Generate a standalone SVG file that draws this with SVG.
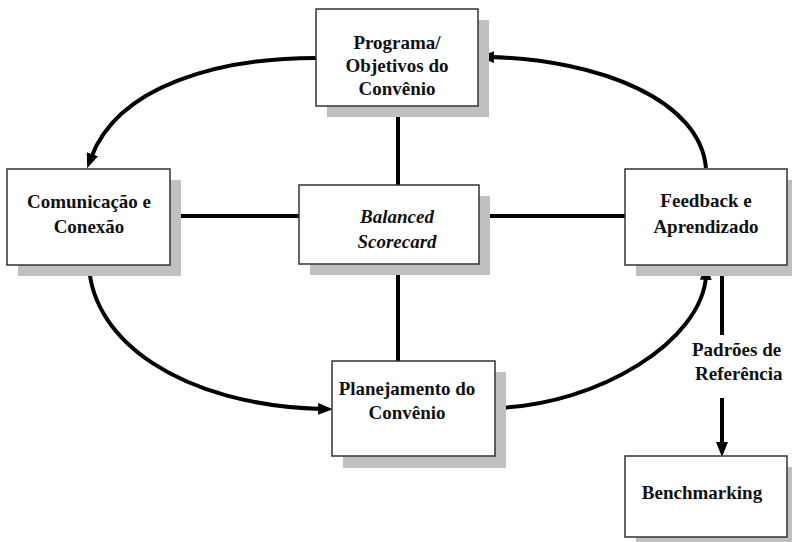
<svg xmlns="http://www.w3.org/2000/svg" width="792" height="542" viewBox="0 0 792 542">
<style>
.box{fill:#fff;stroke:#333;stroke-width:1.5}
.sh{fill:#c0c0c0}
.t{font-family:"Liberation Serif","Times New Roman",serif;font-weight:bold;font-size:19px;fill:#111;text-anchor:middle}
.i{font-style:italic}
.c{fill:none;stroke:#000;stroke-width:4}
</style>
<defs>
<marker id="ah" markerUnits="userSpaceOnUse" markerWidth="16" markerHeight="14" viewBox="0 0 16 14" refX="4" refY="7" orient="auto">
<path d="M0,1 L15,7 L0,13 z" fill="#000"/>
</marker>
</defs>
<g id="connectors">
<path class="c" d="M398,106 V185"/>
<path class="c" d="M398,264 V361"/>
<path class="c" d="M170,216 H299"/>
<path class="c" d="M479,216 H625"/>
<path class="c" d="M316,58 C220,58 118,85 91,158" marker-end="url(#ah)"/>
<path class="c" d="M706,168 C700,100 600,60 490,57" marker-end="url(#ah)"/>
<path class="c" d="M89,265 C92,340 180,405 322,409" marker-end="url(#ah)"/>
<path class="c" d="M495,408 C600,405 702,340 706,276" marker-end="url(#ah)"/>
<path class="c" d="M722,265 V335"/>
<path class="c" d="M722,398 V446" marker-end="url(#ah)"/>
</g>
<g id="programa">
<rect class="sh" x="327" y="20" width="162" height="97"/>
<rect class="box" x="316" y="9" width="162" height="97"/>
<text class="t" x="397" y="49">Programa/</text>
<text class="t" x="397" y="72">Objetivos do</text>
<text class="t" x="397" y="95">Convênio</text>
</g>
<g id="comunicacao">
<rect class="sh" x="18" y="180" width="163" height="96"/>
<rect class="box" x="7" y="169" width="163" height="96"/>
<text class="t" x="89" y="208">Comunicação e</text>
<text class="t" x="89" y="233">Conexão</text>
</g>
<g id="bsc">
<rect class="sh" x="310" y="196" width="180" height="79"/>
<rect class="box" x="299" y="185" width="180" height="79"/>
<text class="t i" x="397" y="223">Balanced</text>
<text class="t i" x="397" y="248">Scorecard</text>
</g>
<g id="feedback">
<rect class="sh" x="636" y="180" width="162" height="96"/>
<rect class="box" x="625" y="169" width="162" height="96"/>
<text class="t" x="706" y="207">Feedback e</text>
<text class="t" x="706" y="233">Aprendizado</text>
</g>
<g id="planejamento">
<rect class="sh" x="343" y="372" width="163" height="96"/>
<rect class="box" x="332" y="361" width="163" height="95"/>
<text class="t" x="407" y="395">Planejamento do</text>
<text class="t" x="407" y="419">Convênio</text>
</g>
<g id="padroes">
<text class="t" x="692" y="356" style="text-anchor:start">Padrões de</text>
<text class="t" x="695" y="380" style="text-anchor:start">Referência</text>
</g>
<g id="benchmarking">
<rect class="sh" x="636" y="467" width="162" height="81"/>
<rect class="box" x="625" y="456" width="162" height="81"/>
<text class="t" x="702" y="499">Benchmarking</text>
</g>
</svg>
